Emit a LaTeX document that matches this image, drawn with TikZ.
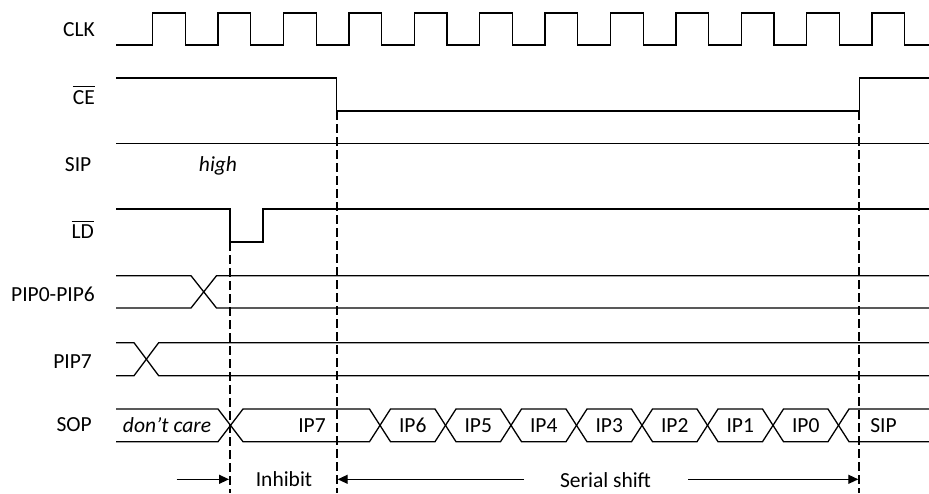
\documentclass[tikz,border=0pt]{standalone}
\usepackage{fontspec}
\setmainfont{Carlito}
\usetikzlibrary{arrows.meta}
\newcommand\ovbar[1]{\vbox{\hrule height 1pt\kern 3pt\hbox{#1}}}
\begin{document}
\begin{tikzpicture}[x=1pt,y=-1pt,
  sig/.style={line width=1.3pt, line join=miter},
  guide/.style={line width=2.2pt, dash pattern=on 8.5pt off 4.5pt},
  arr/.style={line width=1.3pt, -{Triangle[length=10pt,width=9pt]}},
  lbl/.style={inner sep=0pt, font=\fontsize{21.5}{25}\selectfont, anchor=base east},
  txt/.style={inner sep=0pt, font=\fontsize{21.5}{25}\selectfont, anchor=base},
  itxt/.style={txt, font=\fontsize{21.5}{25}\selectfont\itshape}]
\useasboundingbox (0,0) rectangle (929,493);

% labels
\node[lbl] (lclk) at (95,36.7) {CLK};
\node[lbl] (lce)  at (95,104.3) {\ovbar{CE}};
\node[lbl] (lsip) at (91.5,171.3) {SIP};
\node[lbl] (lld)  at (94,238.3) {\ovbar{LD}};
\node[lbl] (lpip) at (95,301.7) {PIP0-PIP6};
\node[lbl] (lpip7) at (92,368.3) {PIP7};
\node[lbl] (lsop) at (92,431.7) {SOP};

% CLK
\draw[sig] (116,45) foreach \k in {0,...,11} {
  -- ({152.7+65.4*\k},45) -- ({152.7+65.4*\k},13)
  -- ({185.4+65.4*\k},13) -- ({185.4+65.4*\k},45) } -- (929,45);

% CE
\draw[sig] (116,78) -- (336.7,78) -- (336.7,111) -- (859.3,111) -- (859.3,78) -- (929,78);

% SIP
\draw[sig] (116,143.3) -- (929,143.3);
\node[itxt] (high) at (218,171.3) {high};

% LD
\draw[sig] (116,209) -- (230,209) -- (230,242) -- (263,242) -- (263,209) -- (929,209);

% PIP0-PIP6
\draw[sig] (116,275.7) -- (191,275.7) -- (216.5,308) -- (929,308);
\draw[sig] (116,308) -- (191,308) -- (216.5,275.7) -- (929,275.7);

% PIP7
\draw[sig] (116,342.7) -- (134,342.7) -- (158.7,375.7) -- (929,375.7);
\draw[sig] (116,375.7) -- (134,375.7) -- (158.7,342.7) -- (929,342.7);

% SOP
\draw[sig] (116,409) -- (218,409) -- (230.5,425.35) -- (218,441.7) -- (116,441.7);
\node[itxt] (dc) at (167,432.5) {don’t care};
\draw[sig] (230.5,425.35) -- (243,409) -- (369.5,409) -- (380,425.35) -- (369.5,441.7) -- (243,441.7) -- cycle;
\node[txt] (ip7) at (312,432.5) {IP7};
\foreach \j/\t in {0/IP6,1/IP5,2/IP4,3/IP3,4/IP2,5/IP1,6/IP0} {
  \pgfmathsetmacro\a{380+65.5*\j}
  \pgfmathsetmacro\b{380+65.5*(\j+1)}
  \draw[sig] (\a,425.35) -- ({\a+10.5},409) -- ({\b-10.5},409) -- (\b,425.35)
     -- ({\b-10.5},441.7) -- ({\a+10.5},441.7) -- cycle;
  \node[txt] (ipn\j) at ({(\a+\b)/2},432.5) {\t};
}
\draw[sig] (929,409) -- (849,409) -- (838.5,425.35) -- (849,441.7) -- (929,441.7);
\node[txt] (sipo) at (883.5,432.5) {SIP};

% guide lines
\coordinate (g1t) at (230,242);   \coordinate (g1b) at (230,493);
\coordinate (g2t) at (336.7,111); \coordinate (g2b) at (336.7,493);
\coordinate (g3t) at (859.3,111); \coordinate (g3b) at (859.3,493);
\draw[guide] (g1t) -- (g1b);
\draw[guide] (g2t) -- (g2b);
\draw[guide] (g3t) -- (g3b);

% bottom annotations
\coordinate (a1s) at (176.7,479.3); \coordinate (a1e) at (229,479.3);
\coordinate (a2s) at (524,479.3);   \coordinate (a2e) at (337.7,479.3);
\coordinate (a3s) at (688.3,479.3); \coordinate (a3e) at (858.3,479.3);
\draw[arr] (a1s) -- (a1e);
\draw[arr] (a2s) -- (a2e);
\draw[arr] (a3s) -- (a3e);
\node[txt] (inh) at (284,486.7) {Inhibit};
\node[txt] (ser) at (605.5,487.5) {Serial shift};
\end{tikzpicture}
\end{document}
